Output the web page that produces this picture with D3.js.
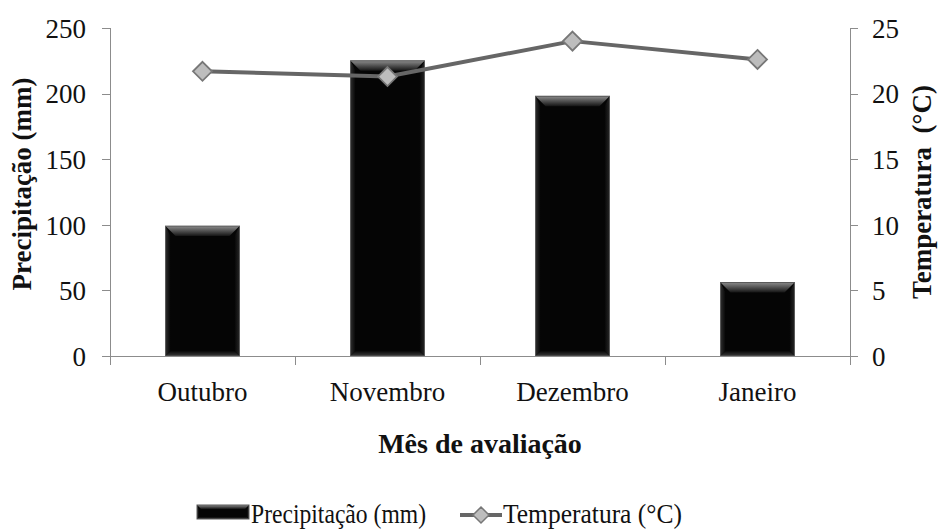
<!DOCTYPE html>
<html>
<head>
<meta charset="utf-8">
<script src="https://cdn.jsdelivr.net/npm/d3@7"></script>
<style>
  html, body { margin: 0; padding: 0; background: #fff; }
  svg { display: block; }
  svg text { font-family: "Liberation Serif", "Times New Roman", Times, "DejaVu Serif", serif; }
</style>
</head>
<body>
<svg id="chart" width="940" height="529"></svg>
<script>
// Monthly rainfall (bars, left axis) and mean temperature (line, right axis)
const months = ["Outubro", "Novembro", "Dezembro", "Janeiro"];
const precipitation = [99, 225, 198, 56];
const temperature = [21.7, 21.3, 24.0, 22.6];
const precipTicks = [0, 50, 100, 150, 200, 250];
const tempTicks = [0, 5, 10, 15, 20, 25];

const svg = d3.select("#chart");
const plotLeft = 110, plotRight = 850, plotTop = 28, plotBottom = 356;
const axisColor = "#8c8c8c";
const serif = "'Liberation Serif', 'Times New Roman', Times, 'DejaVu Serif', serif";

const x = d3.scaleBand().domain(months).range([plotLeft, plotRight]).paddingInner(0.6).paddingOuter(0.3);
const yL = d3.scaleLinear().domain([0, 250]).range([plotBottom, plotTop]);
const yR = d3.scaleLinear().domain([0, 25]).range([plotBottom, plotTop]);

// gradients for the bevelled bars
const defs = svg.append("defs");
const gTop = defs.append("linearGradient").attr("id", "bevelTop").attr("x1", 0).attr("y1", 0).attr("x2", 0).attr("y2", 1);
gTop.append("stop").attr("offset", "0%").attr("stop-color", "#8a8a8a");
gTop.append("stop").attr("offset", "100%").attr("stop-color", "#141414");
const gBot = defs.append("linearGradient").attr("id", "bevelBot").attr("x1", 0).attr("y1", 1).attr("x2", 0).attr("y2", 0);
gBot.append("stop").attr("offset", "0%").attr("stop-color", "#3a3a3a");
gBot.append("stop").attr("offset", "100%").attr("stop-color", "#080808");
const gL = defs.append("linearGradient").attr("id", "bevelL").attr("x1", 0).attr("y1", 0).attr("x2", 1).attr("y2", 0);
gL.append("stop").attr("offset", "0%").attr("stop-color", "#2e2e2e");
gL.append("stop").attr("offset", "100%").attr("stop-color", "#060606");
const gR = defs.append("linearGradient").attr("id", "bevelR").attr("x1", 1).attr("y1", 0).attr("x2", 0).attr("y2", 0);
gR.append("stop").attr("offset", "0%").attr("stop-color", "#262626");
gR.append("stop").attr("offset", "100%").attr("stop-color", "#060606");

function bevelBar(g, x0, y0, w, h, b) {
  b = Math.min(b, h / 2, w / 2);
  g.append("rect").attr("x", x0).attr("y", y0).attr("width", w).attr("height", h).attr("fill", "#050505");
  const pts = (arr) => arr.map(p => p.join(",")).join(" ");
  g.append("polygon").attr("points", pts([[x0, y0], [x0 + w, y0], [x0 + w - b, y0 + b], [x0 + b, y0 + b]])).attr("fill", "url(#bevelTop)");
  g.append("polygon").attr("points", pts([[x0, y0 + h], [x0 + w, y0 + h], [x0 + w - b * 0.5, y0 + h - b * 0.5], [x0 + b * 0.5, y0 + h - b * 0.5]])).attr("fill", "url(#bevelBot)");
  g.append("polygon").attr("points", pts([[x0, y0], [x0 + b * 0.5, y0 + b], [x0 + b * 0.5, y0 + h - b * 0.5], [x0, y0 + h]])).attr("fill", "url(#bevelL)");
  g.append("polygon").attr("points", pts([[x0 + w, y0], [x0 + w - b * 0.5, y0 + b], [x0 + w - b * 0.5, y0 + h - b * 0.5], [x0 + w, y0 + h]])).attr("fill", "url(#bevelR)");
  g.append("rect").attr("x", x0).attr("y", y0).attr("width", w).attr("height", h)
    .attr("fill", "none").attr("stroke", "#5a5a5a").attr("stroke-width", 1);
}

// bars
const barsG = svg.append("g");
months.forEach((m, i) => {
  const x0 = x(m), y0 = yL(precipitation[i]);
  bevelBar(barsG.append("g"), x0, y0, x.bandwidth(), plotBottom - y0, 10);
});

// axes
const ax = svg.append("g").attr("stroke", axisColor).attr("stroke-width", 1).attr("fill", "none");
ax.append("line").attr("x1", plotLeft + 0.5).attr("x2", plotLeft + 0.5).attr("y1", plotTop).attr("y2", plotBottom + 9);
ax.append("line").attr("x1", plotRight + 0.5).attr("x2", plotRight + 0.5).attr("y1", plotTop).attr("y2", plotBottom + 9);
ax.append("line").attr("x1", plotLeft).attr("x2", plotRight).attr("y1", plotBottom + 0.5).attr("y2", plotBottom + 0.5);
precipTicks.forEach(t => {
  ax.append("line").attr("x1", plotLeft - 8).attr("x2", plotLeft).attr("y1", Math.round(yL(t)) + 0.5).attr("y2", Math.round(yL(t)) + 0.5);
});
tempTicks.forEach(t => {
  ax.append("line").attr("x1", plotRight).attr("x2", plotRight + 8).attr("y1", Math.round(yR(t)) + 0.5).attr("y2", Math.round(yR(t)) + 0.5);
});
const step = x.step();
d3.range(months.length + 1).forEach(k => {
  const bx = Math.round(plotLeft + k * step) + 0.5;
  ax.append("line").attr("x1", bx).attr("x2", bx).attr("y1", plotBottom).attr("y2", plotBottom + 9);
});

// tick labels
const tl = svg.append("g").attr("font-family", serif).attr("font-size", 27).attr("fill", "#111");
precipTicks.forEach(t => {
  tl.append("text").attr("x", 86).attr("y", yL(t)).attr("dy", "0.36em").attr("text-anchor", "end").text(t);
});
tempTicks.forEach(t => {
  tl.append("text").attr("x", 872).attr("y", yR(t)).attr("dy", "0.36em").attr("text-anchor", "start").text(t);
});
months.forEach(m => {
  tl.append("text").attr("x", x(m) + x.bandwidth() / 2).attr("y", 401).attr("text-anchor", "middle").text(m);
});

// axis titles
const titles = svg.append("g").attr("font-family", serif).attr("font-weight", "bold").attr("fill", "#111");
titles.append("text").attr("x", 480).attr("y", 453).attr("text-anchor", "middle")
  .attr("font-size", 28).text("Mês de avaliação");
titles.append("text").attr("transform", "translate(31,184) rotate(-90)").attr("text-anchor", "middle")
  .attr("font-size", 27).text("Precipitação (mm)");
titles.append("text").attr("transform", "translate(931,192) rotate(-90)").attr("text-anchor", "middle")
  .attr("font-size", 27).attr("xml:space", "preserve").text("Temperatura  (°C)");

// temperature line
const lineColor = "#666666";
const line = d3.line().x((d, i) => x(months[i]) + x.bandwidth() / 2).y(d => yR(d));
svg.append("path").datum(temperature).attr("d", line)
  .attr("fill", "none").attr("stroke", lineColor).attr("stroke-width", 4).attr("stroke-linejoin", "round");
const diamond = (cx, cy, r) => `M${cx},${cy - r}L${cx + r},${cy}L${cx},${cy + r}L${cx - r},${cy}Z`;
svg.append("g").selectAll("path").data(temperature).join("path")
  .attr("d", (d, i) => diamond(x(months[i]) + x.bandwidth() / 2, yR(d), 9.5))
  .attr("fill", "#bdbdbd").attr("stroke", "#777").attr("stroke-width", 1.8);

// legend
const lg = svg.append("g").attr("font-family", serif);
bevelBar(lg.append("g"), 197, 505, 52, 14, 4);
lg.append("text").attr("x", 251).attr("y", 523).attr("font-size", 27).attr("fill", "#111")
  .attr("textLength", 175).attr("lengthAdjust", "spacingAndGlyphs").text("Precipitação (mm)");
lg.append("line").attr("x1", 460).attr("x2", 502).attr("y1", 515).attr("y2", 515)
  .attr("stroke", lineColor).attr("stroke-width", 4);
lg.append("path").attr("d", diamond(481, 515, 8)).attr("fill", "#bdbdbd").attr("stroke", "#777").attr("stroke-width", 1.5);
lg.append("text").attr("x", 503).attr("y", 523).attr("font-size", 27).attr("fill", "#111")
  .attr("textLength", 179).attr("lengthAdjust", "spacingAndGlyphs").text("Temperatura (°C)");
</script>
</body>
</html>
